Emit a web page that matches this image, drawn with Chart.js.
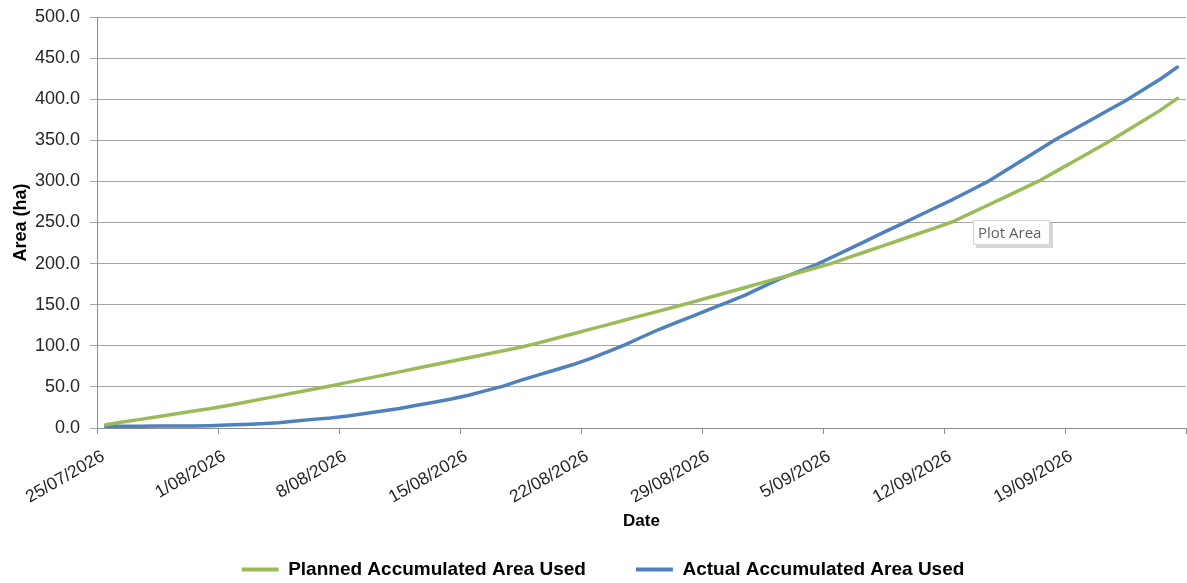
<!DOCTYPE html>
<html>
<head>
<meta charset="utf-8">
<script src="https://cdn.jsdelivr.net/npm/chart.js@4.4.1/dist/chart.umd.min.js"></script>
<style>
  html, body { margin: 0; padding: 0; background: #fff; }
  #wrap { width: 1187px; height: 583px; }
</style>
</head>
<body>
<div id="wrap"><canvas id="chart" width="1187" height="583"></canvas></div>
<script>
const dates = [
  "25/07/2026", "26/07/2026", "27/07/2026", "28/07/2026", "29/07/2026", "30/07/2026", "31/07/2026",
  "1/08/2026", "2/08/2026", "3/08/2026", "4/08/2026", "5/08/2026", "6/08/2026", "7/08/2026",
  "8/08/2026", "9/08/2026", "10/08/2026", "11/08/2026", "12/08/2026", "13/08/2026", "14/08/2026",
  "15/08/2026", "16/08/2026", "17/08/2026", "18/08/2026", "19/08/2026", "20/08/2026", "21/08/2026",
  "22/08/2026", "23/08/2026", "24/08/2026", "25/08/2026", "26/08/2026", "27/08/2026", "28/08/2026",
  "29/08/2026", "30/08/2026", "31/08/2026", "1/09/2026", "2/09/2026", "3/09/2026", "4/09/2026",
  "5/09/2026", "6/09/2026", "7/09/2026", "8/09/2026", "9/09/2026", "10/09/2026", "11/09/2026",
  "12/09/2026", "13/09/2026", "14/09/2026", "15/09/2026", "16/09/2026", "17/09/2026", "18/09/2026",
  "19/09/2026", "20/09/2026", "21/09/2026", "22/09/2026", "23/09/2026", "24/09/2026", "25/09/2026"
];

const planned = [
  4.0, 7.3, 10.5, 13.8, 17.0, 20.3, 23.5,
  27.1, 31.1, 35.1, 39.1, 43.1, 47.1, 51.2,
  55.5, 59.8, 64.0, 68.3, 72.6, 76.9, 81.1,
  85.4, 89.7, 94.0, 98.2, 103.3, 108.8, 114.4,
  120.0, 125.5, 131.1, 136.7, 142.2, 147.8, 153.5,
  159.4, 165.2, 171.0, 176.9, 182.7, 188.5, 194.4,
  200.3, 207.5, 214.7, 221.9, 229.0, 236.3, 243.5,
  250.9, 260.8, 270.7, 280.6, 290.6, 300.6, 312.5,
  324.2, 336.1, 347.9, 360.6, 373.5, 386.4, 401.0
];

const actual = [
  2.0, 2.1, 2.2, 2.3, 2.4, 2.5, 2.8,
  3.5, 4.4, 5.3, 6.4, 8.4, 10.5, 12.2,
  14.5, 17.6, 20.7, 23.8, 27.6, 31.4, 35.2,
  39.9, 45.4, 51.0, 57.9, 64.3, 70.6, 76.9,
  84.2, 92.4, 100.9, 110.4, 119.8, 128.3, 136.4,
  144.8, 153.2, 161.7, 171.6, 181.3, 189.5, 197.7,
  207.5, 217.6, 227.7, 238.0, 247.8, 257.9, 267.9,
  277.9, 288.7, 299.4, 312.3, 325.5, 338.6, 351.5,
  363.1, 374.8, 386.5, 398.1, 411.2, 424.3, 439.0
];

const seriesNames = ["Planned Accumulated Area Used", "Actual Accumulated Area Used"];
const colors = { green: "#9bbb59", blue: "#4f81bd", grid: "#a6a6a6", axis: "#8c8c8c", text: "#262626" };

Chart.defaults.font.family = '"Liberation Sans", Arial, sans-serif';
Chart.defaults.color = colors.text;

// the little Excel hover box left in the screenshot
const hoverBox = {
  id: "hoverBox",
  afterDraw(chart) {
    const ctx = chart.ctx;
    const x = 973, y = 220, w = 77, h = 25;
    ctx.save();
    ctx.fillStyle = "rgba(0,0,0,0.16)";
    ctx.fillRect(x + 3, y + 3, w, h);
    ctx.fillStyle = "#fdfdfd";
    ctx.fillRect(x, y, w, h);
    ctx.strokeStyle = "#d4d4d4";
    ctx.lineWidth = 1;
    ctx.strokeRect(x + 0.5, y + 0.5, w - 1, h - 1);
    ctx.fillStyle = "#5f5f5f";
    ctx.font = '15px "Open Sans", "Noto Sans", sans-serif';
    ctx.textBaseline = "middle";
    ctx.fillText("Plot Area", x + 5, y + h / 2 + 1);
    ctx.restore();
  }
};

// keep the plot area edges where the reference has them
const noLabelPadding = s => { s.paddingLeft = 0; s.paddingRight = 0; s.paddingTop = 0; s.paddingBottom = 0; };

new Chart(document.getElementById("chart"), {
  type: "line",
  data: {
    labels: dates,
    datasets: [{
      label: seriesNames[0],
      data: planned,
      borderColor: colors.green,
      backgroundColor: colors.green,
      borderWidth: 3.5,
      pointRadius: 0,
      tension: 0,
      borderCapStyle: "round",
      borderJoinStyle: "round"
    }, {
      label: seriesNames[1],
      data: actual,
      borderColor: colors.blue,
      backgroundColor: colors.blue,
      borderWidth: 3.5,
      pointRadius: 0,
      tension: 0,
      borderCapStyle: "round",
      borderJoinStyle: "round"
    }]
  },
  options: {
    responsive: false,
    animation: false,
    devicePixelRatio: 1,
    layout: { padding: { top: 17, right: 1, left: 20, bottom: 0 } },
    plugins: {
      tooltip: { enabled: false },
      legend: {
        position: "bottom",
        maxHeight: 73,
        labels: {
          boxWidth: 37,
          boxHeight: 4,
          padding: 50,
          color: "#000",
          font: { size: 19, weight: "bold" },
          generateLabels: chart =>
            Chart.defaults.plugins.legend.labels.generateLabels(chart).map(l => ({
              ...l, lineWidth: 0, fillStyle: l.strokeStyle
            }))
        }
      }
    },
    scales: {
      x: {
        type: "category",
        offset: true,
        afterFit: s => { s.height = 82; noLabelPadding(s); },
        grid: {
          offset: true,
          drawOnChartArea: false,
          drawTicks: true,
          tickLength: 6,
          tickColor: c => (c.index === undefined || c.index % 7 === 0) ? colors.axis : "rgba(0,0,0,0)"
        },
        border: { color: colors.axis },
        ticks: {
          autoSkip: false,
          minRotation: 30,
          maxRotation: 30,
          padding: 12,
          labelOffset: -2.5,
          color: colors.text,
          font: { size: 17.5 },
          callback: (v, i) => (i % 7 === 0 ? dates[i] : "")
        },
        title: {
          display: true,
          text: "Date",
          color: "#000",
          font: { size: 17, weight: "bold" },
          padding: { top: 0, bottom: -22 }
        }
      },
      y: {
        min: 0,
        max: 500,
        afterFit: s => { s.width = 77; noLabelPadding(s); },
        grid: { color: colors.grid, tickColor: colors.grid, tickLength: 7 },
        border: { color: colors.axis },
        ticks: {
          stepSize: 50,
          padding: 10,
          color: colors.text,
          font: { size: 18 },
          callback: v => Number(v).toFixed(1)
        },
        title: {
          display: true,
          text: "Area (ha)",
          color: "#000",
          font: { size: 18, weight: "bold" },
          padding: { top: -10, bottom: 0 }
        }
      }
    }
  },
  plugins: [hoverBox]
});
</script>
</body>
</html>
